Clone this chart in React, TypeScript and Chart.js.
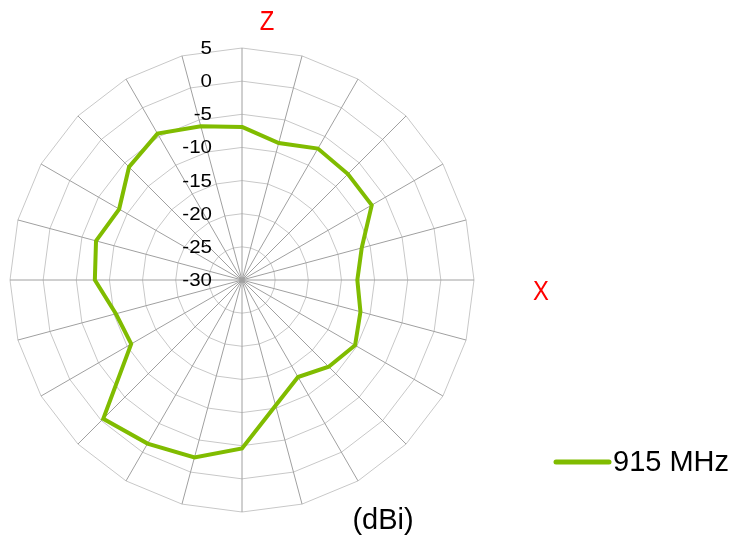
import React, { useEffect, useRef } from "react";
import { Chart, registerables } from "chart.js";

Chart.register(...registerables);

const angles: string[] = [
  "0", "15", "30", "45", "60", "75", "90", "105", "120", "135", "150", "165",
  "180", "195", "210", "225", "240", "255", "270", "285", "300", "315", "330", "345",
];
const gain915: number[] = [
  -6.9, -8.6, -7.1, -7.4, -7.4, -11.3, -12.6, -11.5, -10.3, -11.5, -13.1, -10.4,
  -4.6, -2.3, -1.5, -0.4, -10.7, -10.3, -7.8, -7.2, -8.6, -5.9, -4.5, -6.0,
];
const tickValues: number[] = [5, 0, -5, -10, -15, -20, -25, -30];
const seriesName = "915 MHz";
const unitLabel = "(dBi)";
const topAxisLabel = "Z";
const rightAxisLabel = "X";

const GREEN = "#80bc00";
const FONT = "'Liberation Sans', Arial, sans-serif";

const overlayPlugin = {
  id: "overlay",
  afterDraw(chart: any) {
    const ctx = chart.ctx as CanvasRenderingContext2D;
    const r = chart.scales.r;
    ctx.save();
    // tick labels
    ctx.fillStyle = "#000";
    ctx.font = `19px ${FONT}`;
    ctx.textAlign = "right";
    ctx.textBaseline = "middle";
    tickValues.forEach((v) => {
      const d = r.getDistanceFromCenterForValue(v);
      ctx.save();
      ctx.translate(r.xCenter - 30, r.yCenter - d + 1);
      ctx.scale(1.08, 0.95);
      ctx.fillText(String(v), 0, 0);
      ctx.restore();
    });
    // axis letters
    ctx.fillStyle = "#ff0000";
    ctx.font = `28px ${FONT}`;
    ctx.textAlign = "center";
    ctx.textBaseline = "middle";
    const drawSqueezed = (t: string, x: number, y: number) => {
      ctx.save();
      ctx.translate(x, y);
      ctx.scale(0.85, 1);
      ctx.fillText(t, 0, 0);
      ctx.restore();
    };
    drawSqueezed(topAxisLabel, r.xCenter + 25, r.yCenter - 258);
    drawSqueezed(rightAxisLabel, r.xCenter + 299, r.yCenter + 12);
    // unit
    ctx.fillStyle = "#000";
    ctx.font = `29px ${FONT}`;
    ctx.fillText(unitLabel, r.xCenter + 141, r.yCenter + 241);
    // legend
    const ly = r.yCenter + 182;
    ctx.strokeStyle = GREEN;
    ctx.lineWidth = 5;
    ctx.lineCap = "round";
    ctx.beginPath();
    ctx.moveTo(r.xCenter + 314, ly);
    ctx.lineTo(r.xCenter + 367, ly);
    ctx.stroke();
    ctx.textAlign = "left";
    ctx.font = `29px ${FONT}`;
    ctx.fillText(seriesName, r.xCenter + 371, ly + 1);
    ctx.restore();
  },
};

export default function App() {
  const ref = useRef<HTMLCanvasElement | null>(null);
  useEffect(() => {
    if (!ref.current) return;
    const chart = new Chart(ref.current, {
      type: "radar",
      data: {
        labels: angles,
        datasets: [
          {
            label: seriesName,
            data: gain915,
            borderColor: GREEN,
            backgroundColor: GREEN,
            borderWidth: 4,
            pointRadius: 0,
            fill: false,
            tension: 0,
          },
        ],
      },
      options: {
        responsive: false,
        animation: false,
        devicePixelRatio: 1,
        layout: { padding: { left: 10, top: 48, right: 263, bottom: 29 } },
        plugins: { legend: { display: false }, tooltip: { enabled: false } },
        scales: {
          r: {
            min: -30,
            max: 5,
            ticks: { display: false, stepSize: 5 },
            pointLabels: { display: false },
            grid: { circular: false, color: "#c8c8c8", lineWidth: 1 },
            angleLines: { color: "#a0a0a0", lineWidth: 1 },
          },
        },
      },
      plugins: [overlayPlugin],
    });
    return () => chart.destroy();
  }, []);
  return (
    <div style={{ position: "absolute", left: 0, top: 0, width: 737, height: 541, background: "#fff" }}>
      <canvas ref={ref} width={737} height={541} />
    </div>
  );
}
